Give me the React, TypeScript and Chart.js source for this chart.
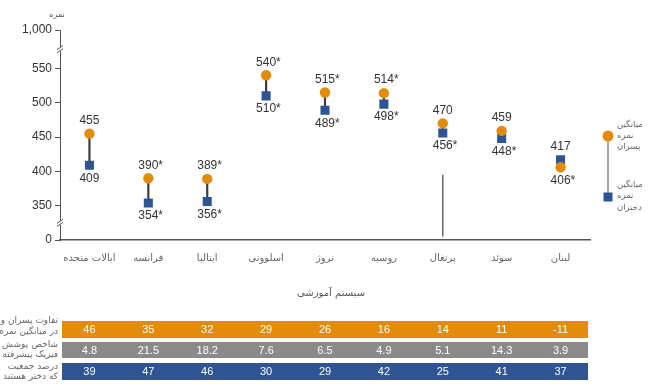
import React, { useEffect, useRef } from 'react';
import { Chart, registerables } from 'chart.js';

Chart.register(...registerables);

// ---- data ----
const categories = ['ایالات متحده', 'فرانسه', 'ایتالیا', 'اسلوونی', 'نروژ', 'روسیه', 'پرتغال', 'سوئد', 'لبنان'];
const boysMean = [455, 390, 389, 540, 515, 514, 470, 459, 406];
const girlsMean = [409, 354, 356, 510, 489, 498, 456, 448, 417];
const boysStar = [false, true, true, true, true, true, false, false, true];
const girlsStar = [false, true, true, true, true, true, true, true, false];

const gapRow = ['46', '35', '32', '29', '26', '16', '14', '11', '-11'];
const coverageRow = ['4.8', '21.5', '18.2', '7.6', '6.5', '4.9', '5.1', '14.3', '3.9'];
const girlsShareRow = ['39', '47', '46', '30', '29', '42', '25', '41', '37'];

const gapLabel = ['تفاوت پسران و دختران', 'در میانگین نمره ها'];
const coverageLabel = ['شاخص پوشش', 'فیزیک پیشرفته'];
const shareLabel = ['درصد جمعیت', 'که دختر هستند'];

const yTickValues = [0, 350, 400, 450, 500, 550, 1000];
const yTickLabels = ['0', '350', '400', '450', '500', '550', '1,000'];
// broken axis: 0 and 1,000 sit just beyond the 350–550 segment
const axisPos = (v: number) => (v === 0 ? 300 : v === 1000 ? 606 : v);
const portugalStub = [395, 305];

const ORANGE = '#E38B0A';
const BLUE = '#2E5494';
const GRAY = '#8A8A8A';
const NUM_FONT = '"Liberation Sans", Arial, sans-serif';
const FA_FONT = '"DejaVu Sans", sans-serif';

const overlay = {
  id: 'overlay',
  afterDraw(chart: any) {
    const { ctx, chartArea } = chart;
    const x = chart.scales.x;
    const y = chart.scales.y;
    ctx.save();

    // axis break marks
    ctx.strokeStyle = '#555';
    ctx.lineWidth = 1;
    [578, 325].forEach((v) => {
      const py = y.getPixelForValue(v);
      const px = chartArea.left;
      ctx.fillStyle = '#fff';
      ctx.fillRect(px - 2, py - 2, 4, 4);
      [-1.5, 1.5].forEach((o) => {
        ctx.beginPath();
        ctx.moveTo(px - 3, py + o + 2);
        ctx.lineTo(px + 3, py + o - 2);
        ctx.stroke();
      });
    });

    // portugal stub line
    const pi = categories.indexOf('پرتغال');
    const ppx = x.getPixelForValue(pi);
    ctx.strokeStyle = '#666';
    ctx.lineWidth = 1.5;
    ctx.beginPath();
    ctx.moveTo(ppx, y.getPixelForValue(portugalStub[0]));
    ctx.lineTo(ppx, y.getPixelForValue(portugalStub[1]));
    ctx.stroke();

    // value labels
    const drawLabel = (px: number, py: number, v: number, star: boolean) => {
      ctx.font = `12px ${NUM_FONT}`;
      ctx.fillStyle = '#333';
      ctx.textBaseline = 'middle';
      ctx.textAlign = 'center';
      const s = String(v);
      ctx.fillText(s, px, py);
      if (star) {
        const w = ctx.measureText(s).width;
        ctx.textAlign = 'left';
        ctx.fillText('*', px + w / 2, py);
      }
    };
    categories.forEach((_, i) => {
      const px = x.getPixelForValue(i);
      const b = boysMean[i];
      const g = girlsMean[i];
      const boysHigh = b >= g;
      drawLabel(px, y.getPixelForValue(b) + (boysHigh ? -13 : 13), b, boysStar[i]);
      drawLabel(px, y.getPixelForValue(g) + (boysHigh ? 13 : -13), g, girlsStar[i]);
    });

    // titles
    ctx.direction = 'rtl';
    ctx.fillStyle = '#555';
    ctx.textAlign = 'center';
    ctx.textBaseline = 'middle';
    ctx.font = `10px ${FA_FONT}`;
    ctx.fillText('سیستم آموزشی', (chartArea.left + chartArea.right) / 2 + 6, 293);
    ctx.font = `8px ${FA_FONT}`;
    ctx.fillText('نمره', chartArea.left - 3, 15);

    // legend
    const lx = 608;
    const ly1 = 136;
    const ly2 = 197;
    ctx.strokeStyle = '#888';
    ctx.lineWidth = 1.5;
    ctx.beginPath();
    ctx.moveTo(lx, ly1);
    ctx.lineTo(lx, ly2);
    ctx.stroke();
    ctx.fillStyle = ORANGE;
    ctx.beginPath();
    ctx.arc(lx, ly1, 5.5, 0, Math.PI * 2);
    ctx.fill();
    ctx.fillStyle = BLUE;
    ctx.fillRect(lx - 4.5, ly2 - 4.5, 9, 9);
    ctx.fillStyle = '#666';
    ctx.font = `8.5px ${FA_FONT}`;
    ctx.textAlign = 'left';
    ctx.direction = 'ltr';
    [['میانگین', 125], ['نمره', 136], ['پسران', 147]].forEach(([t, yy]) => ctx.fillText(t as string, 617, yy as number));
    [['میانگین', 185], ['نمره', 196], ['دختران', 208]].forEach(([t, yy]) => ctx.fillText(t as string, 617, yy as number));

    // table
    const rows = [
      { color: ORANGE, vals: gapRow, label: gapLabel, top: 321, h: 17, ly: [321, 332] },
      { color: GRAY, vals: coverageRow, label: coverageLabel, top: 342, h: 16, ly: [345, 355] },
      { color: BLUE, vals: girlsShareRow, label: shareLabel, top: 363, h: 17, ly: [367, 377] },
    ];
    const tl = chartArea.left + 2;
    const tr = chartArea.right - 2;
    rows.forEach((r) => {
      ctx.fillStyle = r.color;
      ctx.fillRect(tl, r.top, tr - tl, r.h);
      ctx.fillStyle = '#fff';
      ctx.font = `11px ${NUM_FONT}`;
      ctx.textAlign = 'center';
      ctx.direction = 'ltr';
      r.vals.forEach((v, i) => ctx.fillText(v, x.getPixelForValue(i), r.top + r.h / 2 + 0.5));
      ctx.fillStyle = '#666';
      ctx.font = `9px ${FA_FONT}`;
      ctx.textAlign = 'right';
      ctx.direction = 'ltr';
      r.label.forEach((t, k) => ctx.fillText(t, tl - 4, r.ly[k]));
    });

    ctx.restore();
  },
};

export default function App() {
  const ref = useRef<HTMLCanvasElement>(null);
  useEffect(() => {
    if (!ref.current) return;
    const chart = new Chart(ref.current, {
      type: 'bar',
      data: {
        labels: categories,
        datasets: [
          {
            type: 'bar',
            data: categories.map((_, i) => [girlsMean[i], boysMean[i]]) as any,
            backgroundColor: '#3a3a3a',
            barThickness: 1.5,
            order: 3,
          },
          {
            type: 'line',
            data: girlsMean,
            showLine: false,
            pointStyle: 'rect',
            pointRadius: 6.4,
            pointBorderWidth: 0,
            pointBackgroundColor: BLUE,
            backgroundColor: BLUE,
            order: 2,
          },
          {
            type: 'line',
            data: boysMean,
            showLine: false,
            pointStyle: 'circle',
            pointRadius: 5.2,
            pointBorderWidth: 0,
            pointBackgroundColor: ORANGE,
            backgroundColor: ORANGE,
            order: 1,
          },
        ] as any,
      },
      options: {
        responsive: false,
        animation: false,
        layout: { padding: { top: 30, right: 76, bottom: 0, left: 0 } },
        plugins: { legend: { display: false }, tooltip: { enabled: false } },
        scales: {
          x: {
            grid: { display: false },
            border: { display: true, color: '#555', width: 1.5 },
            ticks: {
              font: { family: FA_FONT, size: 10 },
              color: '#666',
              padding: 4,
              maxRotation: 0,
              autoSkip: false,
            },
            afterFit: (s: any) => {
              s.height = 147;
            },
          },
          y: {
            type: 'linear',
            min: axisPos(0),
            max: axisPos(1000),
            grid: { drawOnChartArea: false, drawTicks: true, tickLength: 5, color: '#555' },
            border: { display: true, color: '#555', width: 1 },
            ticks: {
              font: { family: NUM_FONT, size: 12 },
              color: '#333',
              padding: 3,
              autoSkip: false,
              callback: (v: any) => {
                const idx = yTickValues.findIndex((t) => axisPos(t) === v);
                return idx >= 0 ? yTickLabels[idx] : '';
              },
            },
            afterBuildTicks: (s: any) => {
              s.ticks = yTickValues.map((t) => ({ value: axisPos(t) }));
            },
            afterFit: (s: any) => {
              s.width = 60;
            },
          },
        },
      },
      plugins: [overlay],
    });
    return () => chart.destroy();
  }, []);
  return (
    <div style={{ position: 'absolute', left: 0, top: 0, width: 666, height: 387, background: '#fff' }}>
      <canvas ref={ref} width={666} height={387} />
    </div>
  );
}
